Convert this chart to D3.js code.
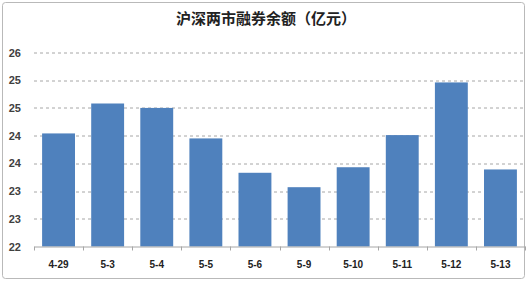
<!DOCTYPE html>
<html>
<head>
<meta charset="utf-8">
<script src="https://cdn.jsdelivr.net/npm/d3@7"></script>
<style>
  html, body { margin: 0; padding: 0; background: #fff; }
  svg { display: block; }
</style>
</head>
<body>
<div id="chart"></div>
<script>
// data
const chartTitle = "沪深两市融券余额（亿元）";
const dates = ["4-29", "5-3", "5-4", "5-5", "5-6", "5-9", "5-10", "5-11", "5-12", "5-13"];
const balances = [24.04, 24.58, 24.50, 23.95, 23.33, 23.07, 23.43, 24.01, 24.96, 23.39];
const yTickValues = [22, 22.5, 23, 23.5, 24, 24.5, 25, 25.5];

const width = 529;
const height = 282;
const margins = { top: 52.5, right: 4, left: 34, bottom: 35.5 };
const innerWidth = width - margins.left - margins.right;
const innerHeight = height - margins.top - margins.bottom;

const data = dates.map((d, i) => ({ date: d, value: balances[i] }));

const svg = d3.select("#chart")
  .append("svg")
  .attr("width", width)
  .attr("height", height);

// outer frame
svg.append("rect")
  .attr("x", 2.5)
  .attr("y", 2.5)
  .attr("width", 522)
  .attr("height", 276)
  .attr("rx", 3)
  .attr("fill", "#fff")
  .attr("stroke", "#b9b9b9");

svg.append("text")
  .attr("x", 266)
  .attr("y", 24)
  .attr("text-anchor", "middle")
  .style("font-family", "'Noto Sans CJK SC', sans-serif")
  .style("font-size", "15px")
  .style("font-weight", "bold")
  .attr("fill", "#222")
  .text(chartTitle);

const g = svg.append("g")
  .attr("transform", `translate(${margins.left}, ${margins.top})`);

const xScale = d3.scaleBand()
  .domain(dates)
  .range([0, innerWidth])
  .paddingInner(0.33)
  .paddingOuter(0.165);

const yScale = d3.scaleLinear()
  .domain([22, 25.5])
  .range([innerHeight, 0]);

// Excel style rounding: 22.5 -> 23 etc
const yFormat = d => Math.floor(d + 0.5);

// gridlines
g.selectAll("line.grid")
  .data(yTickValues.slice(1))
  .enter()
  .append("line")
  .attr("class", "grid")
  .attr("x1", 0)
  .attr("x2", innerWidth)
  .attr("y1", d => Math.round(yScale(d)) + 0.5)
  .attr("y2", d => Math.round(yScale(d)) + 0.5)
  .attr("stroke", "#a6a6a6")
  .attr("stroke-dasharray", "3,3");

const yAxis = d3.axisLeft(yScale)
  .tickValues(yTickValues)
  .tickFormat(yFormat)
  .tickSize(0)
  .tickPadding(13);

g.append("g")
  .attr("class", "y axis")
  .call(yAxis)
  .call(s => s.select(".domain").remove())
  .call(s => s.selectAll("text")
    .style("font-family", "'Liberation Sans', Arial, sans-serif")
    .style("font-size", "11px")
    .style("font-weight", "bold")
    .attr("fill", "#404040"));

// bars
g.selectAll("rect.bar")
  .data(data)
  .enter()
  .append("rect")
  .attr("class", "bar")
  .attr("x", d => xScale(d.date))
  .attr("y", d => yScale(d.value))
  .attr("width", xScale.bandwidth())
  .attr("height", d => innerHeight - yScale(d.value))
  .attr("fill", "#4f81bd");

// x axis with ticks between categories
const step = xScale.step();
const xAxis = d3.axisBottom(xScale)
  .tickSize(0)
  .tickPadding(14);

const xg = g.append("g")
  .attr("class", "x axis")
  .attr("transform", `translate(0, ${innerHeight})`)
  .call(xAxis);

xg.select(".domain")
  .attr("stroke", "#a6a6a6");

xg.selectAll("text")
  .style("font-family", "'Liberation Sans', Arial, sans-serif")
  .style("font-size", "10px")
  .style("font-weight", "bold")
  .attr("fill", "#222");

xg.selectAll("line.sep")
  .data(d3.range(dates.length + 1))
  .enter()
  .append("line")
  .attr("class", "sep")
  .attr("x1", i => Math.round(i * step) + 0.5)
  .attr("x2", i => Math.round(i * step) + 0.5)
  .attr("y1", 0)
  .attr("y2", 4)
  .attr("stroke", "#a6a6a6");
</script>
</body>
</html>
